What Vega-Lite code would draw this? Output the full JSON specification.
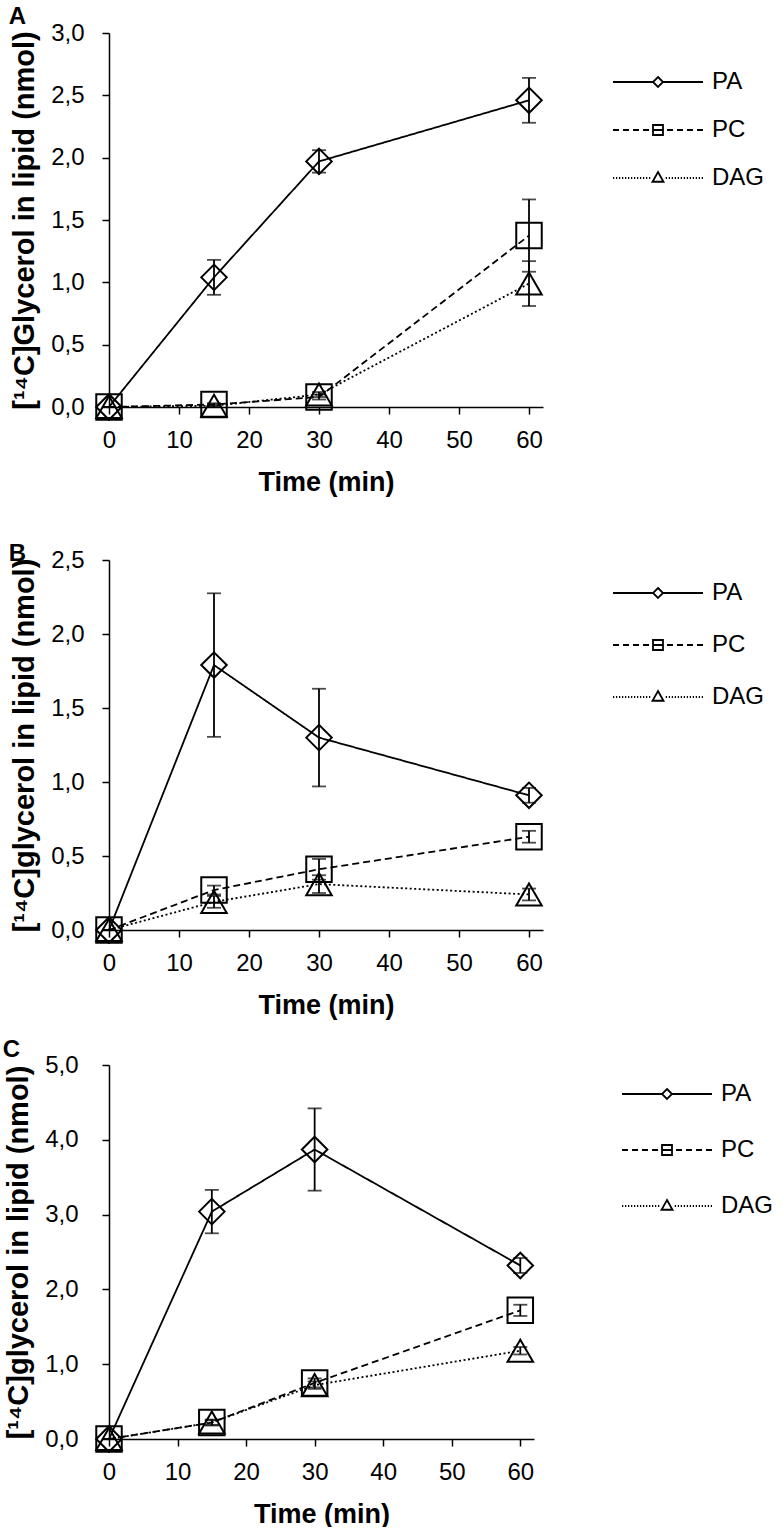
{
  "$schema": "https://vega.github.io/schema/vega-lite/v6.json",
  "padding": {"left": 2, "top": 5, "right": 0, "bottom": 0},
  "spacing": 47,
  "config": {
    "font": "Liberation Sans",
    "view": {"stroke": null},
    "axis": {
      "grid": false,
      "domainColor": "black",
      "domainWidth": 1.5,
      "tickColor": "black",
      "tickWidth": 1.5,
      "tickSize": 7,
      "labelColor": "black",
      "labelFont": "Liberation Sans",
      "labelFontSize": 24,
      "titleColor": "black",
      "titleFont": "Liberation Sans",
      "titleFontSize": 27,
      "titleFontWeight": "bold"
    },
    "axisX": {"labelPadding": 14.5, "titlePadding": 16.5, "labelFlush": false},
    "axisY": {"labelPadding": 18, "titlePadding": 11, "titleFontSize": 29},
    "legend": {
      "orient": "none",
      "padding": 0,
      "title": null,
      "symbolSize": 100,
      "symbolStrokeWidth": 1.8,
      "symbolStrokeColor": "black",
      "symbolFillColor": "transparent",
      "labelFont": "Liberation Sans",
      "labelFontSize": 24,
      "labelColor": "black",
      "labelOffset": 42
    },
    "title": {
      "anchor": "start",
      "frame": "bounds",
      "font": "Liberation Sans",
      "fontSize": 24,
      "fontWeight": "bold",
      "color": "black",
      "baseline": "alphabetic",
      "dx": -2
    }
  },
  "resolve": {"scale": {"shape": "independent", "strokeDash": "independent"}, "legend": {"shape": "independent"}},
  "vconcat": [
    {
      "title": {"text": "A", "offset": -8},
      "width": 434,
      "height": 374,
      "data": {
        "values": [
          {"lipid": "PA", "time": 0, "v": 0, "e": 0},
          {"lipid": "PA", "time": 15, "v": 1.04, "e": 0.14},
          {"lipid": "PA", "time": 30, "v": 1.97, "e": 0.09},
          {"lipid": "PA", "time": 60, "v": 2.46, "e": 0.18},
          {"lipid": "PC", "time": 0, "v": 0, "e": 0},
          {"lipid": "PC", "time": 15, "v": 0.02, "e": 0.01},
          {"lipid": "PC", "time": 30, "v": 0.08, "e": 0.02},
          {"lipid": "PC", "time": 60, "v": 1.375, "e": 0.29},
          {"lipid": "DAG", "time": 0, "v": 0, "e": 0},
          {"lipid": "DAG", "time": 15, "v": 0.01, "e": 0.01},
          {"lipid": "DAG", "time": 30, "v": 0.1, "e": 0.02},
          {"lipid": "DAG", "time": 60, "v": 0.99, "e": 0.18}
        ]
      },
      "encoding": {
        "x": {"field": "time", "type": "quantitative", "scale": {"domain": [0, 62], "nice": false}, "axis": {"values": [0, 10, 20, 30, 40, 50, 60], "title": "Time (min)"}},
        "y": {"field": "v", "type": "quantitative", "scale": {"domain": [0, 3], "nice": false}, "axis": {"values": [0, 0.5, 1, 1.5, 2, 2.5, 3], "labelExpr": "replace(format(datum.value, '.1f'), '.', ',')", "title": "[¹⁴C]Glycerol in lipid (nmol)"}}
      },
      "layer": [
        {
          "mark": {"type": "line", "color": "black", "strokeWidth": 1.8},
          "encoding": {"strokeDash": {"field": "lipid", "type": "nominal", "scale": {"domain": ["PA", "PC", "DAG"], "range": [[1, 0], [7, 4], [2, 2.5]]}, "legend": null}}
        },
        {
          "mark": {"type": "point", "filled": false, "color": "black", "strokeWidth": 2, "size": 650, "opacity": 1},
          "encoding": {"shape": {"field": "lipid", "type": "nominal", "scale": {"domain": ["PA", "PC", "DAG"], "range": ["diamond", "square", "triangle-up"]}, "legend": null}}
        },
        {
          "mark": {"type": "errorbar", "ticks": true, "size": 14, "color": "black", "thickness": 1.8},
          "encoding": {"yError": {"field": "e"}, "detail": {"field": "lipid"}}
        },
        {
          "transform": [{"filter": "false"}],
          "mark": {"type": "point", "filled": false, "color": "black", "opacity": 1},
          "encoding": {"shape": {"field": "lipid", "type": "nominal", "scale": {"domain": ["PA", "PC", "DAG"], "range": [
            "M-9,0H-1M1,0H9M0,-1L1,0L0,1L-1,0Z",
            "M-9,0H-7.8M-7,0H-5.8M-5,0H-3.8M-3,0H-1.8M-1,0H1M1.8,0H3M3.8,0H5M5.8,0H7M7.8,0H9M-1,-1H1V1H-1Z",
            "M-9,0H-8.75M-8.4,0H-8.15M-7.8,0H-7.55M-7.2,0H-6.95M-6.6,0H-6.35M-6,0H-5.75M-5.4,0H-5.15M-4.8,0H-4.55M-4.2,0H-3.95M-3.6,0H-3.35M-3,0H-2.75M-2.4,0H-2.15M-1.8,0H-1.55M1.55,0H1.8M2.15,0H2.4M2.75,0H3M3.35,0H3.6M3.95,0H4.2M4.55,0H4.8M5.15,0H5.4M5.75,0H6M6.35,0H6.6M6.95,0H7.2M7.55,0H7.8M8.15,0H8.4M8.75,0H9M0,-1.2L1.1,0.75L-1.1,0.75Z"
          ]}, "legend": {"legendX": 537, "legendY": 37, "rowPadding": 24}}}
        }
      ],
      "resolve": {"scale": {"shape": "independent"}}
    },
    {
      "spacing": 19,
      "resolve": {"scale": {"shape": "independent", "strokeDash": "independent"}, "legend": {"shape": "independent"}},
      "vconcat": [
        {
          "title": {"text": "B", "offset": -18},
          "width": 434,
          "height": 370,
          "data": {
            "values": [
              {"lipid": "PA", "time": 0, "v": 0, "e": 0},
              {"lipid": "PA", "time": 15, "v": 1.79, "e": 0.485},
              {"lipid": "PA", "time": 30, "v": 1.3, "e": 0.33},
              {"lipid": "PA", "time": 60, "v": 0.91, "e": 0.05},
              {"lipid": "PC", "time": 0, "v": 0, "e": 0},
              {"lipid": "PC", "time": 15, "v": 0.27, "e": 0.03},
              {"lipid": "PC", "time": 30, "v": 0.41, "e": 0.07},
              {"lipid": "PC", "time": 60, "v": 0.63, "e": 0.04},
              {"lipid": "DAG", "time": 0, "v": 0, "e": 0},
              {"lipid": "DAG", "time": 15, "v": 0.19, "e": 0.04},
              {"lipid": "DAG", "time": 30, "v": 0.31, "e": 0.06},
              {"lipid": "DAG", "time": 60, "v": 0.24, "e": 0.04}
            ]
          },
          "encoding": {
            "x": {"field": "time", "type": "quantitative", "scale": {"domain": [0, 62], "nice": false}, "axis": {"values": [0, 10, 20, 30, 40, 50, 60], "title": "Time (min)"}},
            "y": {"field": "v", "type": "quantitative", "scale": {"domain": [0, 2.5], "nice": false}, "axis": {"values": [0, 0.5, 1, 1.5, 2, 2.5], "labelExpr": "replace(format(datum.value, '.1f'), '.', ',')", "title": "[¹⁴C]glycerol in lipid (nmol)"}}
          },
          "layer": [
            {
              "mark": {"type": "line", "color": "black", "strokeWidth": 1.8},
              "encoding": {"strokeDash": {"field": "lipid", "type": "nominal", "scale": {"domain": ["PA", "PC", "DAG"], "range": [[1, 0], [7, 4], [2, 2.5]]}, "legend": null}}
            },
            {
              "mark": {"type": "point", "filled": false, "color": "black", "strokeWidth": 2, "size": 650, "opacity": 1},
              "encoding": {"shape": {"field": "lipid", "type": "nominal", "scale": {"domain": ["PA", "PC", "DAG"], "range": ["diamond", "square", "triangle-up"]}, "legend": null}}
            },
            {
              "mark": {"type": "errorbar", "ticks": true, "size": 14, "color": "black", "thickness": 1.8},
              "encoding": {"yError": {"field": "e"}, "detail": {"field": "lipid"}}
            },
            {
              "transform": [{"filter": "false"}],
              "mark": {"type": "point", "filled": false, "color": "black", "opacity": 1},
              "encoding": {"shape": {"field": "lipid", "type": "nominal", "scale": {"domain": ["PA", "PC", "DAG"], "range": [
                "M-9,0H-1M1,0H9M0,-1L1,0L0,1L-1,0Z",
                "M-9,0H-7.8M-7,0H-5.8M-5,0H-3.8M-3,0H-1.8M-1,0H1M1.8,0H3M3.8,0H5M5.8,0H7M7.8,0H9M-1,-1H1V1H-1Z",
                "M-9,0H-8.75M-8.4,0H-8.15M-7.8,0H-7.55M-7.2,0H-6.95M-6.6,0H-6.35M-6,0H-5.75M-5.4,0H-5.15M-4.8,0H-4.55M-4.2,0H-3.95M-3.6,0H-3.35M-3,0H-2.75M-2.4,0H-2.15M-1.8,0H-1.55M1.55,0H1.8M2.15,0H2.4M2.75,0H3M3.35,0H3.6M3.95,0H4.2M4.55,0H4.8M5.15,0H5.4M5.75,0H6M6.35,0H6.6M6.95,0H7.2M7.55,0H7.8M8.15,0H8.4M8.75,0H9M0,-1.2L1.1,0.75L-1.1,0.75Z"
              ]}, "legend": {"legendX": 537, "legendY": 21, "rowPadding": 28}}}
            }
          ],
          "resolve": {"scale": {"shape": "independent"}}
        },
        {
          "title": {"text": "C", "offset": -8.6},
          "width": 425,
          "height": 374,
          "data": {
            "values": [
              {"lipid": "PA", "time": 0, "v": 0, "e": 0},
              {"lipid": "PA", "time": 15, "v": 3.04, "e": 0.29},
              {"lipid": "PA", "time": 30, "v": 3.87, "e": 0.55},
              {"lipid": "PA", "time": 60, "v": 2.32, "e": 0.1},
              {"lipid": "PC", "time": 0, "v": 0, "e": 0},
              {"lipid": "PC", "time": 15, "v": 0.22, "e": 0.03},
              {"lipid": "PC", "time": 30, "v": 0.75, "e": 0.06},
              {"lipid": "PC", "time": 60, "v": 1.72, "e": 0.075},
              {"lipid": "DAG", "time": 0, "v": 0, "e": 0},
              {"lipid": "DAG", "time": 15, "v": 0.22, "e": 0.04},
              {"lipid": "DAG", "time": 30, "v": 0.72, "e": 0.05},
              {"lipid": "DAG", "time": 60, "v": 1.18, "e": 0.05}
            ]
          },
          "encoding": {
            "x": {"field": "time", "type": "quantitative", "scale": {"domain": [0, 62], "nice": false}, "axis": {"values": [0, 10, 20, 30, 40, 50, 60], "title": "Time (min)"}},
            "y": {"field": "v", "type": "quantitative", "scale": {"domain": [0, 5], "nice": false}, "axis": {"values": [0, 1, 2, 3, 4, 5], "labelPadding": 24, "labelExpr": "replace(format(datum.value, '.1f'), '.', ',')", "title": "[¹⁴C]glycerol in lipid (nmol)"}}
          },
          "layer": [
            {
              "mark": {"type": "line", "color": "black", "strokeWidth": 1.8},
              "encoding": {"strokeDash": {"field": "lipid", "type": "nominal", "scale": {"domain": ["PA", "PC", "DAG"], "range": [[1, 0], [7, 4], [2, 2.5]]}, "legend": null}}
            },
            {
              "mark": {"type": "point", "filled": false, "color": "black", "strokeWidth": 2, "size": 650, "opacity": 1},
              "encoding": {"shape": {"field": "lipid", "type": "nominal", "scale": {"domain": ["PA", "PC", "DAG"], "range": ["diamond", "square", "triangle-up"]}, "legend": null}}
            },
            {
              "mark": {"type": "errorbar", "ticks": true, "size": 14, "color": "black", "thickness": 1.8},
              "encoding": {"yError": {"field": "e"}, "detail": {"field": "lipid"}}
            },
            {
              "transform": [{"filter": "false"}],
              "mark": {"type": "point", "filled": false, "color": "black", "opacity": 1},
              "encoding": {"shape": {"field": "lipid", "type": "nominal", "scale": {"domain": ["PA", "PC", "DAG"], "range": [
                "M-9,0H-1M1,0H9M0,-1L1,0L0,1L-1,0Z",
                "M-9,0H-7.8M-7,0H-5.8M-5,0H-3.8M-3,0H-1.8M-1,0H1M1.8,0H3M3.8,0H5M5.8,0H7M7.8,0H9M-1,-1H1V1H-1Z",
                "M-9,0H-8.75M-8.4,0H-8.15M-7.8,0H-7.55M-7.2,0H-6.95M-6.6,0H-6.35M-6,0H-5.75M-5.4,0H-5.15M-4.8,0H-4.55M-4.2,0H-3.95M-3.6,0H-3.35M-3,0H-2.75M-2.4,0H-2.15M-1.8,0H-1.55M1.55,0H1.8M2.15,0H2.4M2.75,0H3M3.35,0H3.6M3.95,0H4.2M4.55,0H4.8M5.15,0H5.4M5.75,0H6M6.35,0H6.6M6.95,0H7.2M7.55,0H7.8M8.15,0H8.4M8.75,0H9M0,-1.2L1.1,0.75L-1.1,0.75Z"
              ]}, "legend": {"legendX": 546, "legendY": 17, "rowPadding": 32}}}
            }
          ],
          "resolve": {"scale": {"shape": "independent"}}
        }
      ]
    }
  ]
}
